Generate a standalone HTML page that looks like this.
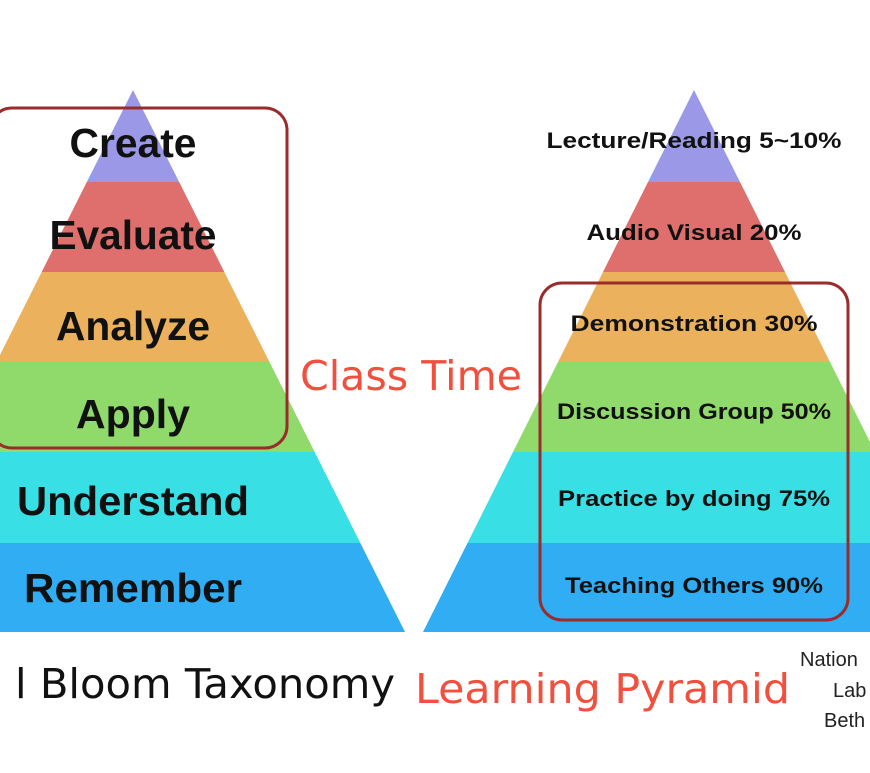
<!DOCTYPE html>
<html><head><meta charset="utf-8"><style>
html,body{margin:0;padding:0;background:#fff;width:870px;height:773px;overflow:hidden}
svg{display:block}
.l{font-family:"Liberation Sans",sans-serif;font-weight:bold;font-size:41px;fill:#111;text-anchor:middle}
.r{font-family:"Liberation Sans",sans-serif;font-weight:bold;font-size:22px;fill:#111;text-anchor:middle}
.t{font-family:"DejaVu Sans","Liberation Sans",sans-serif;font-size:41px}
</style></head><body>
<svg width="870" height="773" viewBox="0 0 870 773">
<defs>
<clipPath id="pl"><polygon points="133,90 405,632 -139,632"/></clipPath>
<clipPath id="pr"><polygon points="694,90 965,632 423,632"/></clipPath>
</defs>
<g clip-path="url(#pl)">
<rect x="-200" y="90" width="700" height="92" fill="#9b98e8"/>
<rect x="-200" y="182" width="700" height="90" fill="#de6f6c"/>
<rect x="-200" y="272" width="700" height="90" fill="#ecb15c"/>
<rect x="-200" y="362" width="700" height="90" fill="#8fda6a"/>
<rect x="-200" y="452" width="700" height="91" fill="#38e0e6"/>
<rect x="-200" y="543" width="700" height="89" fill="#31adf4"/>
</g>
<g clip-path="url(#pr)">
<rect x="400" y="90" width="600" height="92" fill="#9b98e8"/>
<rect x="400" y="182" width="600" height="90" fill="#de6f6c"/>
<rect x="400" y="272" width="600" height="90" fill="#ecb15c"/>
<rect x="400" y="362" width="600" height="90" fill="#8fda6a"/>
<rect x="400" y="452" width="600" height="91" fill="#38e0e6"/>
<rect x="400" y="543" width="600" height="89" fill="#31adf4"/>
</g>
<g lengthAdjust="spacingAndGlyphs">
<text class="l" x="133" y="157" textLength="127" lengthAdjust="spacingAndGlyphs">Create</text>
<text class="l" x="133" y="249" textLength="167" lengthAdjust="spacingAndGlyphs">Evaluate</text>
<text class="l" x="133" y="340" textLength="154" lengthAdjust="spacingAndGlyphs">Analyze</text>
<text class="l" x="133" y="428" textLength="114" lengthAdjust="spacingAndGlyphs">Apply</text>
<text class="l" x="133" y="515" textLength="232" lengthAdjust="spacingAndGlyphs">Understand</text>
<text class="l" x="133" y="602" textLength="218" lengthAdjust="spacingAndGlyphs">Remember</text>
<text class="r" x="694" y="148" textLength="295" lengthAdjust="spacingAndGlyphs">Lecture/Reading 5~10%</text>
<text class="r" x="694" y="240" textLength="215" lengthAdjust="spacingAndGlyphs">Audio Visual 20%</text>
<text class="r" x="694" y="331" textLength="247" lengthAdjust="spacingAndGlyphs">Demonstration 30%</text>
<text class="r" x="694" y="419" textLength="274" lengthAdjust="spacingAndGlyphs">Discussion Group 50%</text>
<text class="r" x="694" y="506" textLength="272" lengthAdjust="spacingAndGlyphs">Practice by doing 75%</text>
<text class="r" x="694" y="593" textLength="258" lengthAdjust="spacingAndGlyphs">Teaching Others 90%</text>
</g>
<rect x="-10" y="108" width="297" height="340" rx="22" fill="none" stroke="#9b2c2c" stroke-width="3"/>
<rect x="540" y="283" width="308" height="337" rx="22" fill="none" stroke="#9b2c2c" stroke-width="3"/>
<text class="t" x="300" y="390" fill="#f2503f" textLength="222" lengthAdjust="spacingAndGlyphs">Class Time</text>
<text class="t" x="15" y="698" fill="#111" textLength="380" lengthAdjust="spacingAndGlyphs">l Bloom Taxonomy</text>
<text class="t" x="415" y="703" fill="#f2503f" textLength="375" lengthAdjust="spacingAndGlyphs">Learning Pyramid</text>
<text x="800" y="666" font-family="Liberation Sans,sans-serif" font-size="20" fill="#222">Nation</text>
<text x="833" y="697" font-family="Liberation Sans,sans-serif" font-size="20" fill="#222">Lab</text>
<text x="824" y="727" font-family="Liberation Sans,sans-serif" font-size="20" fill="#222">Beth</text>
</svg>
</body></html>
